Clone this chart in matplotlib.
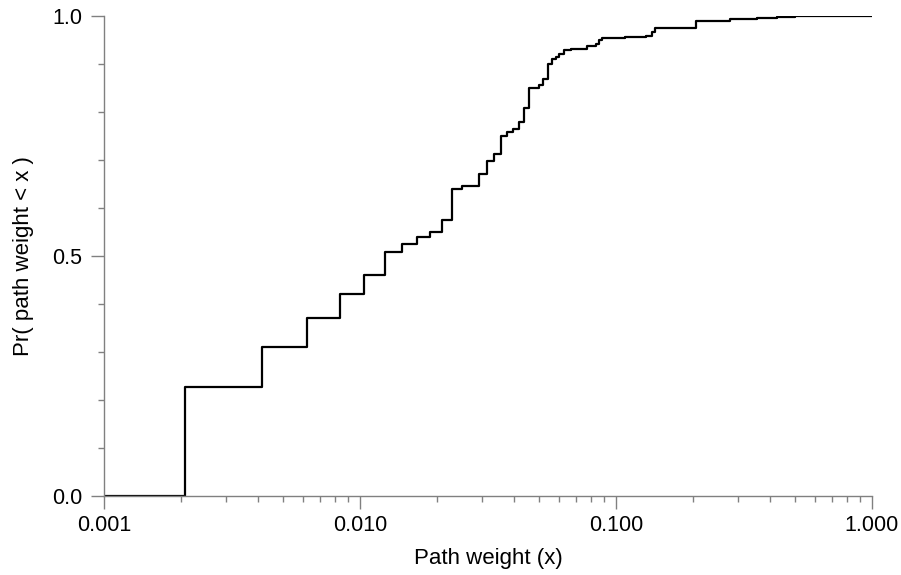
import matplotlib
matplotlib.use('Agg')
import matplotlib.pyplot as plt
from matplotlib.ticker import FixedLocator, FormatStrFormatter, LogLocator, NullFormatter
import numpy as np

plt.rcParams['font.family'] = ['Liberation Sans', 'DejaVu Sans']

# path weights where the empirical CDF jumps, and the CDF value after each jump
weights = [0.001, 0.002072, 0.004159, 0.006223, 0.008353, 0.01039, 0.01249, 0.01459,
           0.01670, 0.01877, 0.02085, 0.02292, 0.02503, 0.02921, 0.03126, 0.03337,
           0.03544, 0.03762, 0.03971, 0.04180, 0.04372, 0.04585, 0.05017, 0.05200,
           0.05410, 0.05639, 0.05814, 0.06005, 0.06248, 0.06653, 0.07683, 0.08330,
           0.08582, 0.08817, 0.1084, 0.1315, 0.1378, 0.1420, 0.1626, 0.2054,
           0.2788, 0.3555, 0.4256, 0.5004, 1.0]
cdf = [0.0, 0.227, 0.311, 0.371, 0.421, 0.460, 0.508, 0.526,
       0.540, 0.549, 0.575, 0.639, 0.645, 0.671, 0.698, 0.712,
       0.749, 0.758, 0.765, 0.780, 0.809, 0.851, 0.856, 0.869,
       0.899, 0.910, 0.915, 0.920, 0.929, 0.932, 0.9375, 0.941,
       0.951, 0.954, 0.956, 0.959, 0.966, 0.974, 0.976, 0.990,
       0.994, 0.9965, 0.9985, 1.0, 1.0]

x_ticks = [0.001, 0.01, 0.1, 1.0]
y_ticks = [0.0, 0.5, 1.0]

grey = '#808080'

fig = plt.figure(figsize=(9.01, 5.75), dpi=100)
ax = fig.add_axes([0.1154, 0.1374, 0.8524, 0.8348])

ax.step(weights, cdf, where='post', color='black', lw=1.6)

ax.set_xscale('log')
ax.set_xlim(0.001, 1.0)
ax.set_ylim(0, 1.0)

ax.xaxis.set_major_locator(FixedLocator(x_ticks))
ax.xaxis.set_major_formatter(FormatStrFormatter('%.3f'))
ax.xaxis.set_minor_locator(LogLocator(base=10, subs=np.arange(2, 10)))
ax.xaxis.set_minor_formatter(NullFormatter())
ax.yaxis.set_major_locator(FixedLocator(y_ticks))
ax.yaxis.set_major_formatter(FormatStrFormatter('%.1f'))
ax.yaxis.set_minor_locator(FixedLocator(np.arange(0.1, 1.0, 0.1)))

for side in ['top', 'right']:
    ax.spines[side].set_visible(False)
for side in ['left', 'bottom']:
    ax.spines[side].set_color(grey)
    ax.spines[side].set_linewidth(1.0)

ax.tick_params(which='major', direction='out', length=9.5, width=1.0, color=grey,
               labelsize=15.5, labelcolor='black')
ax.tick_params(which='minor', direction='out', length=4, width=1.0, color=grey)
ax.tick_params(axis='x', which='major', pad=4)
ax.tick_params(axis='y', which='major', pad=6)

ax.set_xlabel('Path weight (x)', fontsize=16, labelpad=9)
ax.set_ylabel('Pr( path weight < x )', fontsize=16, labelpad=13)

plt.savefig('out.png', dpi=100)
